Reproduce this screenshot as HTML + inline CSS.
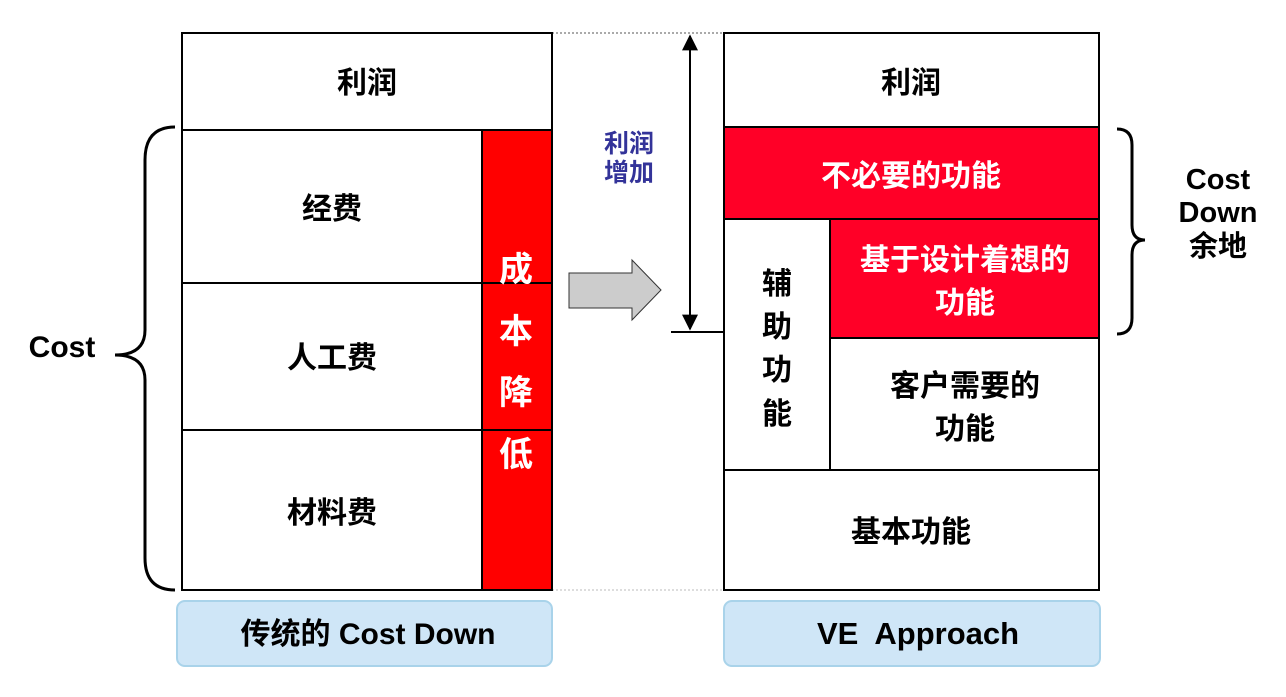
<!DOCTYPE html>
<html><head><meta charset="utf-8"><style>
body{margin:0;background:#fff;}
svg text{font-family:"Liberation Sans","Noto Sans CJK SC",sans-serif;font-weight:bold;}
</style></head><body>
<svg width="1286" height="692" viewBox="0 0 1286 692" xmlns="http://www.w3.org/2000/svg">
<defs><marker id="ah" viewBox="0 0 10 10" refX="9" refY="5" markerWidth="8" markerHeight="8" orient="auto-start-reverse"><path d="M0,0 L10,5 L0,10 z" fill="#000"/></marker></defs>
<line x1="552" y1="33" x2="724" y2="33" stroke="#555" stroke-dasharray="2,2" stroke-width="1"/>
<line x1="552" y1="590" x2="724" y2="590" stroke="#bbb" stroke-dasharray="2,2" stroke-width="1"/>
<rect x="482" y="130" width="70" height="460" fill="#ff0000"/>
<rect x="182" y="33" width="370" height="557" fill="none" stroke="#000" stroke-width="2"/>
<line x1="182" y1="130" x2="552" y2="130" stroke="#000" stroke-width="2"/>
<line x1="182" y1="283" x2="552" y2="283" stroke="#000" stroke-width="2"/>
<line x1="182" y1="430" x2="552" y2="430" stroke="#000" stroke-width="2"/>
<line x1="482" y1="130" x2="482" y2="590" stroke="#000" stroke-width="2"/>
<g font-size="30" text-anchor="middle">
<text x="367" y="93">利润</text>
<text x="332" y="219">经费</text>
<text x="332" y="368">人工费</text>
<text x="332" y="523">材料费</text>
<g fill="#fff" font-size="34"><text x="516" y="281">成</text><text x="516" y="343">本</text><text x="516" y="404">降</text><text x="516" y="466">低</text></g>
</g>
<path d="M175,127 Q145,127 145,160 L145,330 Q145,355 115,355 Q145,355 145,380 L145,558 Q145,590 175,590" fill="none" stroke="#000" stroke-width="3"/>
<text x="62" y="357" font-size="30" text-anchor="middle">Cost</text>
<path d="M569,273 L632,273 L632,260 L661,290 L632,320 L632,308 L569,308 Z" fill="#cccccc" stroke="#333" stroke-width="1"/>
<text x="629" y="152" font-size="25" fill="#333399" text-anchor="middle">利润</text>
<text x="629" y="181" font-size="25" fill="#333399" text-anchor="middle">增加</text>
<line x1="690" y1="36" x2="690" y2="329" stroke="#000" stroke-width="2" marker-start="url(#ah)" marker-end="url(#ah)"/>
<line x1="671" y1="332" x2="724" y2="332" stroke="#000" stroke-width="2"/>
<rect x="724" y="127" width="375" height="92" fill="#ff0027"/>
<rect x="830" y="219" width="269" height="119" fill="#ff0027"/>
<rect x="724" y="33" width="375" height="557" fill="none" stroke="#000" stroke-width="2"/>
<line x1="724" y1="127" x2="1099" y2="127" stroke="#000" stroke-width="2"/>
<line x1="724" y1="219" x2="1099" y2="219" stroke="#000" stroke-width="2"/>
<line x1="830" y1="338" x2="1099" y2="338" stroke="#000" stroke-width="2"/>
<line x1="830" y1="219" x2="830" y2="470" stroke="#000" stroke-width="2"/>
<line x1="724" y1="470" x2="1099" y2="470" stroke="#000" stroke-width="2"/>
<g font-size="30" text-anchor="middle">
<text x="911" y="93">利润</text>
<text x="911" y="186" fill="#fff">不必要的功能</text>
<text x="965" y="270" fill="#fff">基于设计着想的</text>
<text x="965" y="313" fill="#fff">功能</text>
<text x="965" y="396">客户需要的</text>
<text x="965" y="439">功能</text>
<text x="777" y="294">辅</text><text x="777" y="337">助</text><text x="777" y="380">功</text><text x="777" y="424">能</text>
<text x="911" y="542">基本功能</text>
</g>
<path d="M1117,129 Q1132,129 1132,145 L1132,225 Q1132,240 1145,240 Q1132,240 1132,255 L1132,318 Q1132,334 1117,334" fill="none" stroke="#000" stroke-width="3"/>
<g font-size="29" text-anchor="middle"><text x="1218" y="189">Cost</text><text x="1218" y="222">Down</text><text x="1218" y="256">余地</text></g>
<rect x="177" y="601" width="375" height="65" rx="8" fill="#cfe6f7" stroke="#a9d3ea" stroke-width="2"/>
<rect x="724" y="601" width="376" height="65" rx="8" fill="#cfe6f7" stroke="#a9d3ea" stroke-width="2"/>
<text x="368" y="644" font-size="30" text-anchor="middle">传统的 Cost Down</text>
<text x="918" y="644" font-size="31" text-anchor="middle" xml:space="preserve">VE  Approach</text>
</svg>
</body></html>
